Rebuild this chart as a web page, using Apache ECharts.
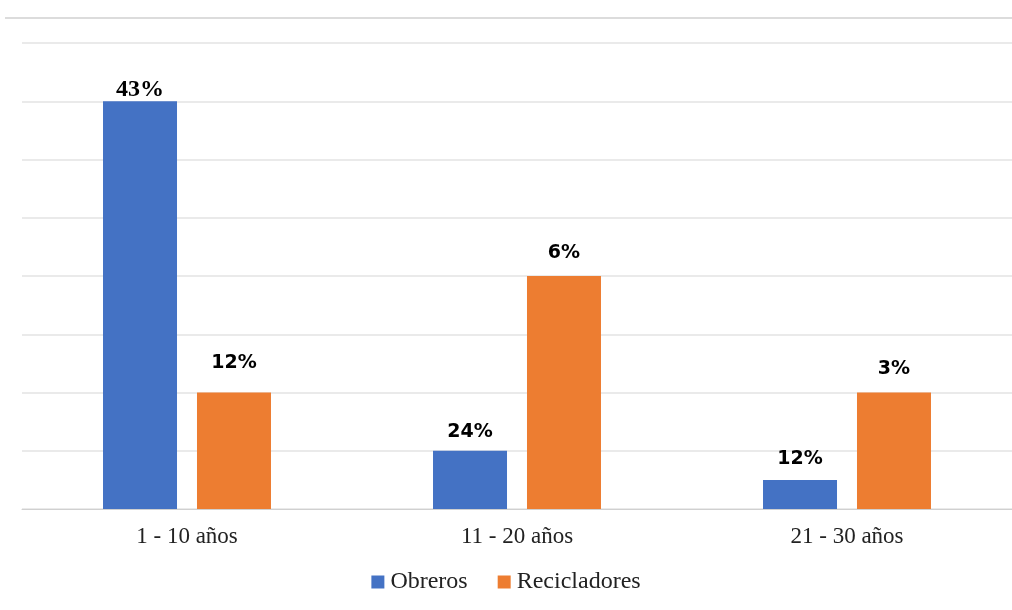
<!DOCTYPE html>
<html><head><meta charset="utf-8">
<script src="https://cdn.jsdelivr.net/npm/echarts@6/dist/echarts.min.js"></script>
<style>html,body{margin:0;padding:0;background:#fff}#c{width:1012px;height:610px}</style>
</head><body><div id="c"></div>
<script>
const categories = ['1 - 10 años', '11 - 20 años', '21 - 30 años'];
const obrerosValues = [7, 1, 0.5];
const recicladoresValues = [2, 4, 2];
const obrerosLabels = ['43%', '24%', '12%'];
const recicladoresLabels = ['12%', '6%', '3%'];

const chart = echarts.init(document.getElementById('c'));
const labelFont = {fontFamily: 'DejaVu Sans', fontWeight: 'bold', fontSize: 19, color: '#000'};
function mk(vals, labs, dists, first) {
  return vals.map((v, i) => ({
    value: v,
    label: Object.assign({show: true, position: 'top', distance: dists[i], formatter: labs[i]},
      labelFont,
      (first && i === 0) ? {fontFamily: 'Liberation Sans Narrow', fontSize: 24, distance: -1} : {})
  }));
}
chart.setOption({
  animation: false,
  grid: {left: 22, right: 0, top: 43, bottom: 101},
  legend: {
    bottom: 11, left: 'center', itemWidth: 13, itemHeight: 13, itemGap: 30,
    icon: 'rect',
    textStyle: {fontFamily: 'Liberation Serif', fontSize: 24, color: '#222', padding: [0, 0, 0, 1]},
    data: ['Obreros', 'Recicladores']
  },
  xAxis: {
    type: 'category', data: categories,
    axisLine: {lineStyle: {color: '#d0d0d0', width: 1}},
    axisTick: {show: false},
    axisLabel: {fontFamily: 'Liberation Serif', fontSize: 23, color: '#222', margin: 16}
  },
  yAxis: {
    type: 'value', min: 0, max: 8, interval: 1,
    axisLabel: {show: false}, axisLine: {show: false}, axisTick: {show: false},
    splitLine: {lineStyle: {color: '#e3e3e3', width: 1.5}}
  },
  series: [
    {name: 'Obreros', type: 'bar', barWidth: 74, barGap: '27%', itemStyle: {color: '#4472C4'},
     data: mk(obrerosValues, obrerosLabels, [0, 9, 11], true)},
    {name: 'Recicladores', type: 'bar', barWidth: 74, itemStyle: {color: '#ED7D31'},
     data: mk(recicladoresValues, recicladoresLabels, [20, 13, 14], false)}
  ],
  graphic: [{type: 'line', shape: {x1: 5, y1: 18, x2: 1012, y2: 18}, style: {stroke: '#dcdcdc', lineWidth: 2}}]
});
</script></body></html>
